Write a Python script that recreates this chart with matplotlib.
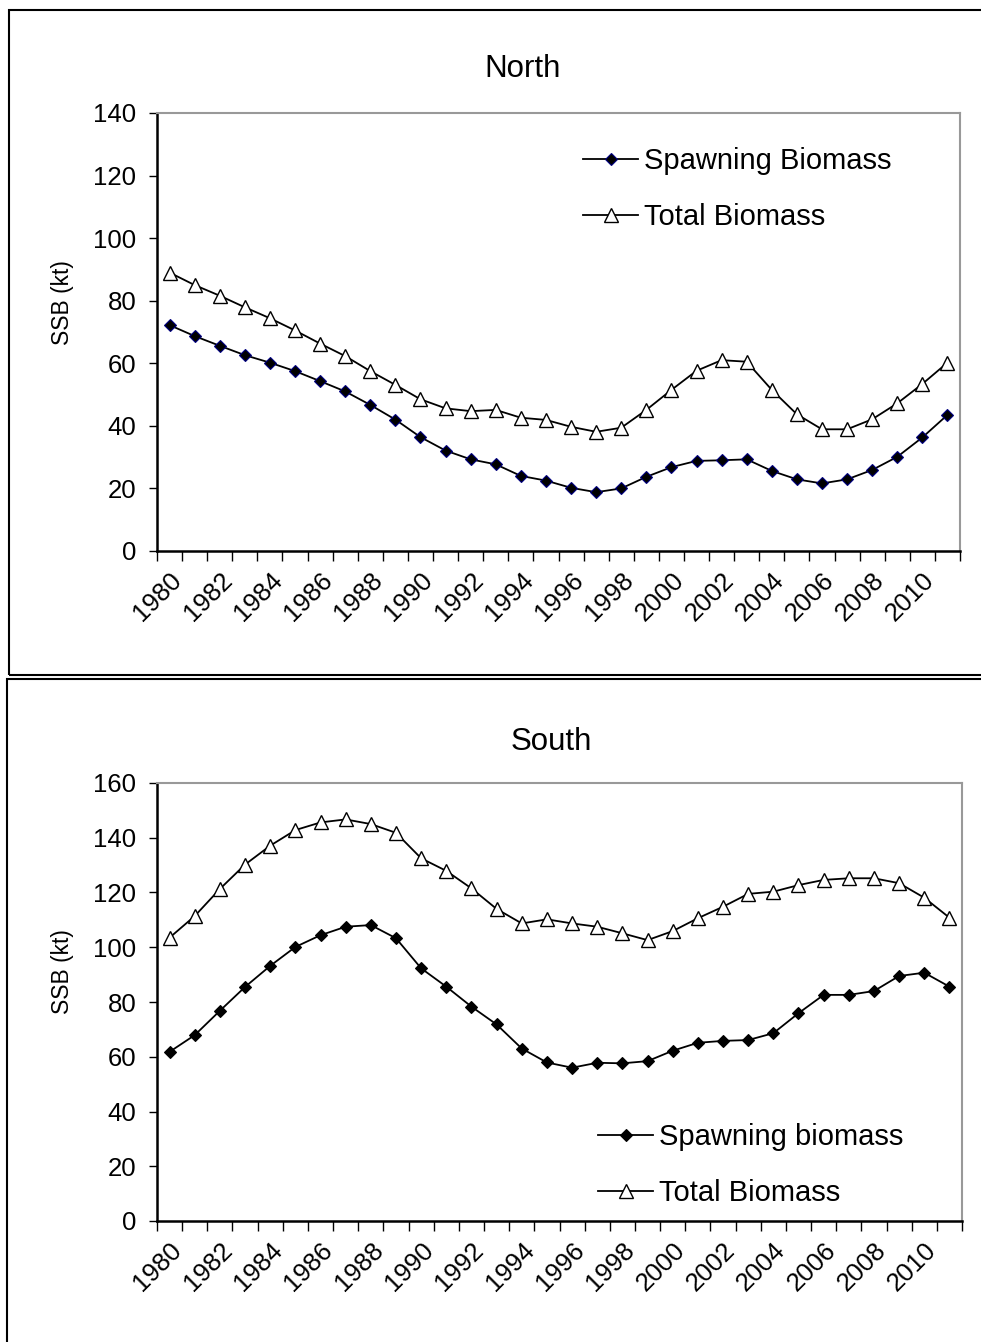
import matplotlib
matplotlib.use("Agg")
import matplotlib.pyplot as plt
from matplotlib.patches import Rectangle
import numpy as np

plt.rcParams['font.family'] = ['Liberation Sans', 'DejaVu Sans']

years = list(range(1980, 2012))

# North stock (kt)
north_ssb = [72.2, 68.7, 65.6, 62.6, 60.2, 57.5, 54.3, 51.0, 46.7, 42.0,
             36.4, 32.1, 29.3, 27.7, 24.0, 22.5, 20.2, 18.8, 20.0, 23.7,
             26.8, 28.8, 29.0, 29.3, 25.6, 22.9, 21.6, 22.9, 25.9, 30.1,
             36.3, 43.5]
north_total = [89.0, 85.0, 81.6, 77.9, 74.4, 70.5, 66.3, 62.3, 57.5, 53.1,
               48.5, 45.6, 44.7, 45.1, 42.6, 41.9, 39.7, 38.1, 39.4, 45.1,
               51.5, 57.6, 61.0, 60.5, 51.5, 43.7, 38.9, 38.9, 42.1, 47.2,
               53.4, 60.2]

# South stock (kt)
south_ssb = [61.8, 67.9, 76.8, 85.5, 93.2, 100.1, 104.4, 107.5, 108.1, 103.3,
             92.3, 85.6, 78.3, 71.8, 63.0, 57.9, 56.0, 57.8, 57.6, 58.4,
             62.2, 65.1, 65.8, 66.1, 68.6, 75.9, 82.6, 82.6, 84.0, 89.5,
             90.7, 85.6]
south_total = [103.5, 111.4, 121.3, 130.2, 137.1, 142.8, 145.6, 146.7, 145.0, 141.8,
               132.5, 127.9, 121.5, 114.0, 108.7, 110.2, 108.7, 107.5, 105.1, 102.6,
               105.9, 110.6, 114.8, 119.5, 120.3, 122.7, 124.6, 125.2, 125.2, 123.4,
               118.1, 110.8]

W, H = 981, 1342
fig = plt.figure(figsize=(W / 100, H / 100), dpi=100)


def fx(px):
    return px / W


def fy(py):
    return 1 - py / H


# outer boxes around each chart
fig.patches.append(Rectangle((fx(9), fy(675)), fx(990 - 9), fy(10) - fy(675),
                             transform=fig.transFigure, fill=False,
                             edgecolor='black', linewidth=1.5))
fig.patches.append(Rectangle((fx(7), fy(1360)), fx(990 - 7), fy(679) - fy(1360),
                             transform=fig.transFigure, fill=False,
                             edgecolor='black', linewidth=1.5))


def draw_panel(rect, ssb, total, ymax, title, title_xy, ylab_y,
               ssb_label, ssb_edge, leg_xy):
    ax = fig.add_axes(rect)
    x = np.arange(len(years))
    ax.plot(x, ssb, color='black', lw=1.3, marker='D', ms=6.5,
            mfc='black', mec=ssb_edge, mew=0.8, label=ssb_label)
    ax.plot(x, total, color='black', lw=1.3, marker='^', ms=9.5,
            mfc='white', mec='black', mew=1.0, label='Total Biomass')

    ax.set_xlim(-0.5, len(years) - 0.5)
    ax.set_ylim(0, ymax)
    ax.set_yticks(np.arange(0, ymax + 1, 20))
    ax.tick_params(axis='y', direction='out', length=6, width=1,
                   labelsize=18.5, pad=9)

    # tick marks between categories, labels every other year
    ax.set_xticks(np.arange(-0.5, len(years), 1))
    ax.set_xticklabels([])
    ax.tick_params(axis='x', which='major', direction='out', length=7, width=1)
    ax.set_xticks(x[::2], minor=True)
    ax.set_xticklabels([str(y) for y in years[::2]], minor=True,
                       rotation=45, ha='right', va='top',
                       rotation_mode='anchor', fontsize=18.5)
    ax.tick_params(axis='x', which='minor', length=0, pad=12)

    for s in ['left', 'bottom']:
        ax.spines[s].set_color('black')
        ax.spines[s].set_linewidth(1.8)
    for s in ['top', 'right']:
        ax.spines[s].set_color('#999999')
        ax.spines[s].set_linewidth(1.5)

    fig.text(fx(title_xy[0]), fy(title_xy[1]), title, fontsize=22.5,
             ha='center', va='center')
    fig.text(fx(62), fy(ylab_y), 'SSB (kt)', fontsize=16.5, rotation=90,
             ha='center', va='center')

    ax.legend(loc='center left', bbox_to_anchor=(fx(leg_xy[0]), fy(leg_xy[1])),
              bbox_transform=fig.transFigure, frameon=False, fontsize=21,
              handlelength=1.9, handletextpad=0.2, labelspacing=0.95,
              borderpad=0, borderaxespad=0)
    return ax


draw_panel([fx(157), fy(551), fx(960 - 157), fy(113) - fy(551)],
           north_ssb, north_total, 140, 'North', (523, 69), 303,
           'Spawning Biomass', '#000080', (583, 189))
draw_panel([fx(157), fy(1221), fx(962 - 157), fy(783) - fy(1221)],
           south_ssb, south_total, 160, 'South', (551, 742), 972,
           'Spawning biomass', 'black', (598, 1165))

fig.savefig('out.png', dpi=100)
